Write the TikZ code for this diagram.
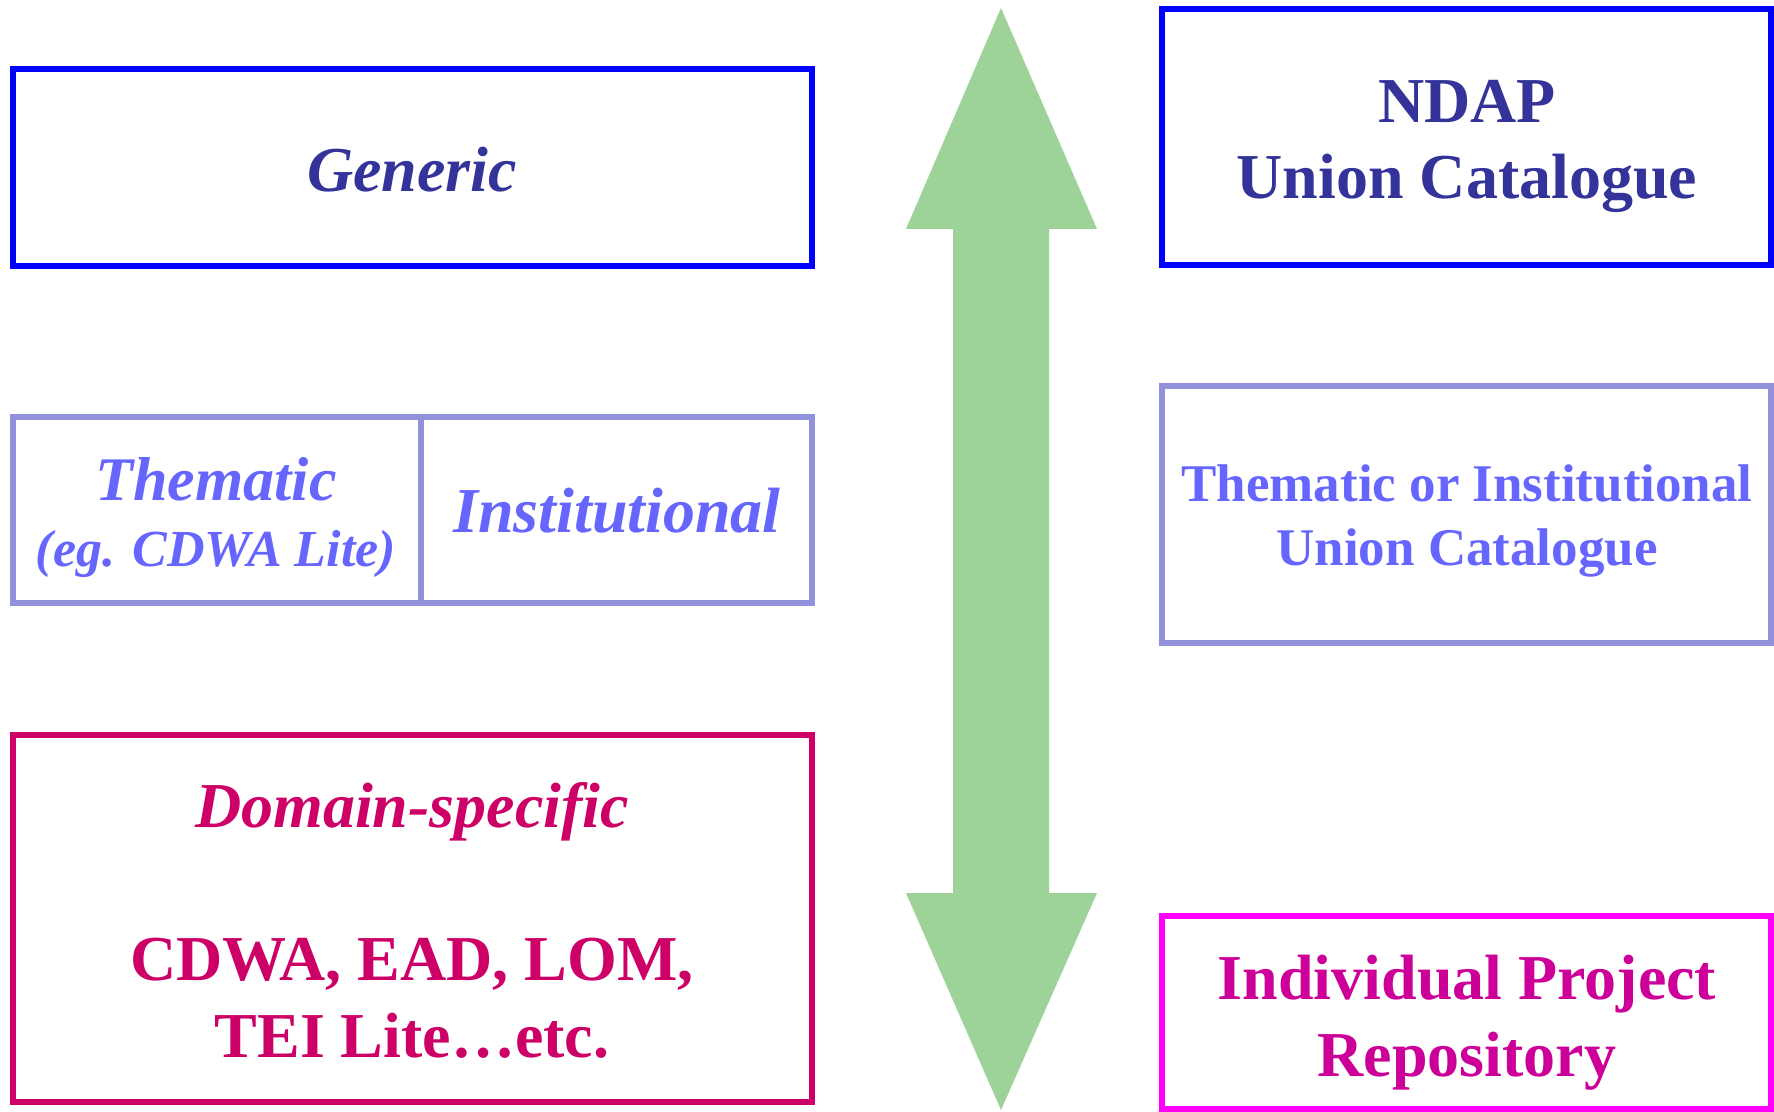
\documentclass[tikz,border=0pt]{standalone}
\usepackage{fontspec}
\setmainfont{Liberation Serif}
\usepackage{tikz}
\definecolor{navytext}{RGB}{51,51,153}
\definecolor{lavline}{RGB}{145,145,220}
\definecolor{lavtext}{RGB}{102,102,255}
\definecolor{domred}{RGB}{204,0,102}
\definecolor{projline}{RGB}{255,0,255}
\definecolor{projtext}{RGB}{204,0,153}
\definecolor{arrowgreen}{RGB}{157,211,153}

\begin{document}
\begin{tikzpicture}[line cap=butt,line join=miter,x=0.5pt,y=-0.5pt,
  box/.style={line width=3pt},
  txt/.style={anchor=base,inner sep=0pt,font=\bfseries\fontsize{32}{38}\selectfont}]
\useasboundingbox (0,0) rectangle (1774,1112);
% double arrow in the middle
\fill [arrowgreen] (1001,8)--(1097,229)--(1049,229)--(1049,893)--(1097,893)--(1001,1110)
  --(906,893)--(953,893)--(953,229)--(906,229)--cycle;
% left column
\draw [box,blue] (13,69) rectangle (812,266);
\node [txt,navytext,font=\bfseries\itshape\fontsize{32}{38}\selectfont] (generic) at (412,192) {Generic};
\draw [box,lavline] (13,417) rectangle (812,603);
\draw [box,lavline] (421,417)--(421,603);
\node [txt,lavtext,font=\bfseries\itshape\fontsize{31}{38}\selectfont] (thematic) at (216,501) {Thematic};
\node [txt,lavtext,font=\bfseries\itshape\fontsize{26}{30}\selectfont] (egcdwa) at (216,567) {(eg. CDWA Lite)};
\node [txt,lavtext,font=\bfseries\itshape\fontsize{32}{38}\selectfont] (institutional) at (617,533) {Institutional};
\draw [box,domred] (13,735) rectangle (812,1102);
\node [txt,domred,font=\bfseries\itshape\fontsize{32}{38}\selectfont] (domain) at (412,827) {Domain-specific};
\node [txt,domred] (cdwa) at (412,980) {CDWA, EAD, LOM,};
\node [txt,domred] (tei) at (412,1057) {TEI Lite\ldots etc.};
% right column
\draw [box,blue] (1162,9) rectangle (1771,265);
\node [txt,navytext] (ndap) at (1467,123) {NDAP};
\node [txt,navytext] (unioncat) at (1467,199) {Union Catalogue};
\draw [box,lavline] (1162,386) rectangle (1771,643);
\node [txt,lavtext,font=\bfseries\fontsize{26.5}{32}\selectfont] (thorinst) at (1467,502) {Thematic or Institutional};
\node [txt,lavtext,font=\bfseries\fontsize{26.5}{32}\selectfont] (unioncattwo) at (1467,566) {Union Catalogue};
\draw [box,projline] (1162,916) rectangle (1771,1109);
\node [txt,projtext] (individual) at (1467,999) {Individual Project};
\node [txt,projtext] (repository) at (1467,1076) {Repository};
\end{tikzpicture}
\end{document}
